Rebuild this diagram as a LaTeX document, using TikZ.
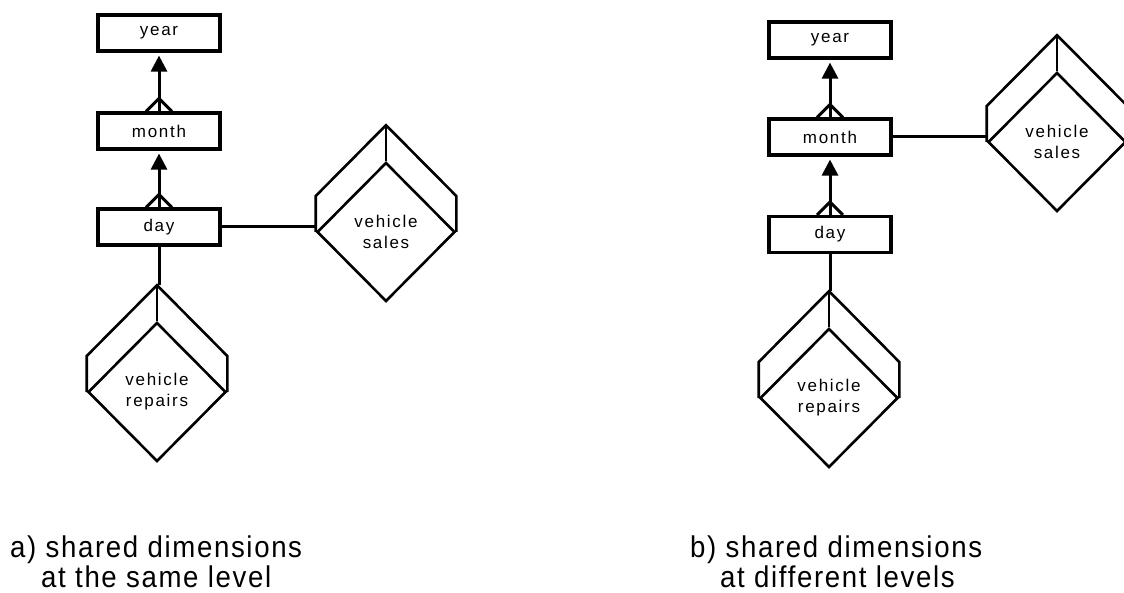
\documentclass[tikz,border=0pt]{standalone}
\usepackage{fontspec}
\setmainfont{Liberation Sans}
\newfontfamily\boxfont[LetterSpace=10]{Liberation Sans}
\newfontfamily\capfont[LetterSpace=5.5,FakeStretch=0.92]{Liberation Sans}
\usetikzlibrary{arrows.meta,shapes.geometric}
\newcommand\cubeback[1]{%
  \draw[cubeedge] (#1.west) -- ([yshift=36pt]#1.west) -- ([yshift=36pt]#1.north) -- ([yshift=36pt]#1.east) -- (#1.east);
  \draw[cubeedge] (#1.north) -- ([yshift=36pt]#1.north);}
\newcommand\crowfoot[1]{%
  \draw[link] ([xshift=-13pt]#1.north) -- ([yshift=13pt]#1.north) -- ([xshift=13pt]#1.north);}
\begin{document}
\begin{tikzpicture}[x=1pt,y=-1pt,
  level/.style={draw,line width=3.2pt,minimum width=122pt,minimum height=36pt,inner sep=0pt,font=\boxfont\fontsize{17}{20}\selectfont},
  cubefront/.style={draw,shape=diamond,line width=2.6pt,minimum width=138pt,minimum height=139pt,inner sep=0pt,align=center,font=\boxfont\fontsize{17}{21}\selectfont},
  link/.style={line width=3pt},
  cubeedge/.style={line width=2.6pt,line join=miter},
  tip/.style={line width=3pt,-{Triangle[width=16pt,length=16pt]}},
  caption/.style={anchor=base west,inner sep=0pt,font=\capfont\fontsize{30}{32}\selectfont}]
\useasboundingbox (0,0) rectangle (1124,593);
% ---- a)
\node[level] (ya) at (159,33) {year};
\node[level] (ma) at (159,131) {month};
\node[level] (da) at (159,227) {day};
\node[cubefront] (sa) at (386,232) {vehicle\\sales};
\node[cubefront] (ra) at (157,392) {vehicle\\repairs};
\cubeback{sa}
\cubeback{ra}
\draw[tip] (ma.north) -- ([yshift=-3pt]ya.south);
\crowfoot{ma}
\draw[tip] (da.north) -- ([yshift=-3pt]ma.south);
\crowfoot{da}
\draw[link] (da.east) -- (da.east -| sa.west);
\draw[link] (da.south) -- ([yshift=36pt]ra.north -| da.south);
% ---- b)
\node[level] (yb) at (830,40) {year};
\node[level] (mb) at (830,137) {month};
\node[level] (db) at (830,234.5) {day};
\node[cubefront] (sb) at (1057,142) {vehicle\\sales};
\node[cubefront] (rb) at (829,398) {vehicle\\repairs};
\cubeback{sb}
\cubeback{rb}
\draw[tip] (mb.north) -- ([yshift=-3pt]yb.south);
\crowfoot{mb}
\draw[tip] (db.north) -- ([yshift=-3pt]mb.south);
\crowfoot{db}
\draw[link] (mb.east) -- (mb.east -| sb.west);
\draw[link] (db.south) -- ([yshift=36pt]rb.north -| db.south);
% ---- captions
\node[caption] (ca1) at (10,557) {a) shared dimensions};
\node[caption] (ca2) at (41,587) {at the same level};
\node[caption] (cb1) at (690,557) {b) shared dimensions};
\node[caption] (cb2) at (720,587) {at different levels};
\end{tikzpicture}
\end{document}
